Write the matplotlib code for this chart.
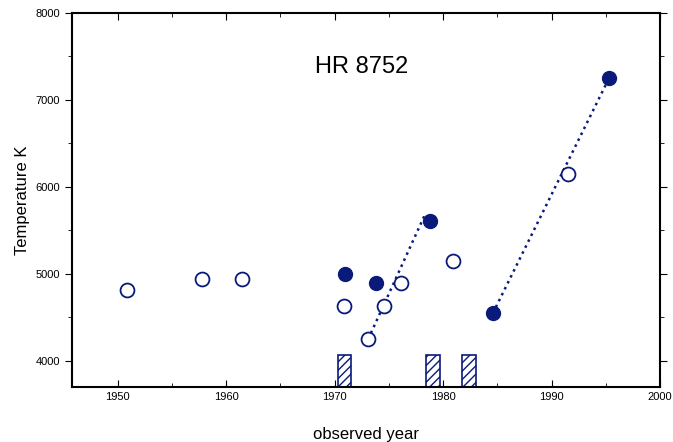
import matplotlib.pyplot as plt
from matplotlib.ticker import MultipleLocator

plt.rcParams['font.family'] = ['Liberation Sans', 'DejaVu Sans']
navy = "#0a1a7a"

open_year = [1950.9, 1957.8, 1961.5, 1970.9, 1973.1, 1974.6, 1976.1, 1980.9, 1991.5]
open_temp = [4820, 4940, 4940, 4630, 4250, 4630, 4900, 5150, 6150]
filled_year = [1971.0, 1973.8, 1978.8, 1984.6, 1995.3]
filled_temp = [5000, 4900, 5610, 4550, 7250]
trend1_year = [1973.1, 1978.4]
trend1_temp = [4250, 5700]
trend2_year = [1984.6, 1995.3]
trend2_temp = [4550, 7250]
event_year = [1970.9, 1979.1, 1982.4]
event_top = 4070

ymin = 3700
fig = plt.figure(figsize=(6.73, 4.42), dpi=100)
ax = fig.add_axes([72/673, 1 - 387/442, 588/673, 374/442])

ax.bar(event_year, [event_top - ymin] * 3, bottom=ymin, width=1.25,
       facecolor="white", edgecolor=navy, hatch="////", linewidth=1.2, zorder=2)
ax.plot(trend1_year, trend1_temp, ":", color=navy, lw=1.8, zorder=3)
ax.plot(trend2_year, trend2_temp, ":", color=navy, lw=1.8, zorder=3)
ax.plot(open_year, open_temp, "o", ms=10, mfc="white", mec=navy, mew=1.3, ls="none", zorder=4)
ax.plot(filled_year, filled_temp, "o", ms=10, mfc=navy, mec=navy, ls="none", zorder=4)

ax.set_xlim(1945.8, 2000)
ax.set_ylim(ymin, 8000)
ax.xaxis.set_major_locator(MultipleLocator(10))
ax.xaxis.set_minor_locator(MultipleLocator(5))
ax.yaxis.set_major_locator(MultipleLocator(1000))
ax.yaxis.set_minor_locator(MultipleLocator(500))
for s in ax.spines.values():
    s.set_linewidth(1.5)
ax.tick_params(which="both", direction="in", top=True, right=True, labelsize=8)
ax.tick_params(axis="y", which="both", direction="out")
ax.tick_params(which="major", length=5)
ax.tick_params(which="minor", length=3)
ax.set_xlabel("observed year", fontsize=12, labelpad=18)
ax.set_ylabel("Temperature K", fontsize=12)
ax.text(1968.2, 7310, "HR 8752", fontsize=17)

fig.savefig("out.png")
